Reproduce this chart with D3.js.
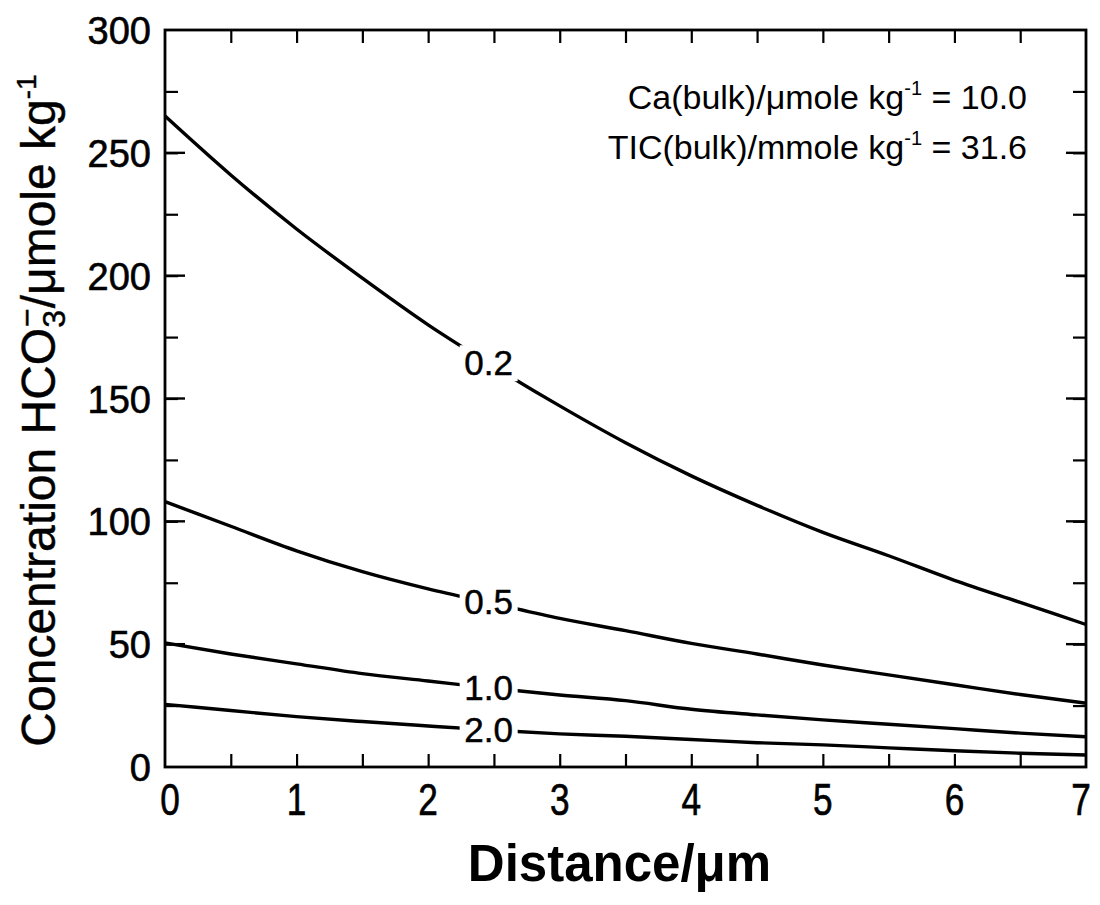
<!DOCTYPE html>
<html>
<head>
<meta charset="utf-8">
<script src="https://cdn.jsdelivr.net/npm/d3@7"></script>
<style>
  html, body { margin: 0; padding: 0; background: #fff; }
  svg { display: block; }
  text { font-family: "Liberation Sans", Arial, Helvetica, sans-serif; fill: #000; }
</style>
</head>
<body>
<svg id="chart" width="1100" height="905"></svg>
<script>
// ---- data ----
const distance = [0, 0.5, 1, 1.5, 2, 2.5, 3, 3.5, 4, 4.5, 5, 5.5, 6, 6.5, 7];
const curveLabels = ["0.2", "0.5", "1.0", "2.0"];
const conc02 = [265, 241, 219, 199, 180, 163, 147, 132, 118.5, 106.5, 95.5, 86, 76, 67, 58];
const conc05 = [108, 98, 88, 79.5, 72.5, 66.5, 60.5, 55.5, 50.3, 46, 41.5, 37.5, 33.5, 29.5, 26];
const conc10 = [50.5, 46, 42, 38, 35, 32, 29.3, 27, 23.5, 21.2, 19.2, 17.4, 15.6, 13.8, 12.3];
const conc20 = [25.5, 23, 20.5, 18.5, 16.7, 15, 13.5, 12.5, 11.2, 9.9, 9, 7.8, 6.6, 5.6, 4.9];
const seriesValues = [conc02, conc05, conc10, conc20];
const labelAt = 2.46;               // distance where the curve labels sit
const xTickLabels = [0, 1, 2, 3, 4, 5, 6, 7];
const yTickLabels = [0, 50, 100, 150, 200, 250, 300];
const annotations = [
  {pre: "Ca(bulk)/\u03bcmole kg", sup: "-1", post: " = 10.0"},
  {pre: "TIC(bulk)/mmole kg", sup: "-1", post: " = 31.6"}
];

// ---- layout ----
const svg = d3.select("#chart");
const L = 165, R = 1086, T = 30, B = 767;
const x = d3.scaleLinear().domain([0, 7]).range([L, R]);
const y = d3.scaleLinear().domain([0, 300]).range([B, T]);

// ---- curves ----
const line = d3.line()
  .x(d => x(d[0])).y(d => y(d[1]))
  .curve(d3.curveMonotoneX);

seriesValues.forEach((vals, i) => {
  const pts = distance.map((d, j) => [d, vals[j]]);
  svg.append("path")
    .attr("d", line(pts))
    .attr("fill", "none")
    .attr("stroke", "#000")
    .attr("stroke-width", 3.4)
    .attr("stroke-linejoin", "round");
  const k = distance.findIndex(d => d > labelAt);
  const t = (labelAt - distance[k - 1]) / (distance[k] - distance[k - 1]);
  const val = vals[k - 1] + t * (vals[k] - vals[k - 1]);
  const cx = x(labelAt), cy = y(val);
  svg.append("rect")
    .attr("x", cx - 29).attr("y", cy - 18)
    .attr("width", 58).attr("height", 36)
    .attr("fill", "#fff");
  svg.append("text")
    .attr("x", cx).attr("y", cy + 12)
    .attr("text-anchor", "middle")
    .attr("font-size", 35)
    .attr("stroke", "#000").attr("stroke-width", 0.5)
    .text(curveLabels[i]);
});

// ---- frame & ticks ----
const xMinor = d3.range(0.5, 7, 0.5);
const yMinor = d3.range(25, 300, 25);

const axBottom = d3.axisBottom(x).tickValues(xMinor).tickSizeInner(-13).tickSizeOuter(0).tickFormat("");
const axTop = d3.axisTop(x).tickValues(xMinor).tickSizeInner(-13).tickSizeOuter(0).tickFormat("");
const axLeft = d3.axisLeft(y).tickValues(yMinor).tickSizeInner(-13).tickSizeOuter(0).tickFormat("");
const axRight = d3.axisRight(y).tickValues(yMinor).tickSizeInner(-13).tickSizeOuter(0).tickFormat("");

function styleAxis(g) {
  g.select(".domain").remove();
  g.selectAll(".tick line").attr("stroke", "#000").attr("stroke-width", 2.2);
}
svg.append("g").attr("transform", `translate(0,${B})`).call(axBottom).call(styleAxis);
svg.append("g").attr("transform", `translate(0,${T})`).call(axTop).call(styleAxis);
svg.append("g").attr("transform", `translate(${L},0)`).call(axLeft).call(styleAxis);
svg.append("g").attr("transform", `translate(${R},0)`).call(axRight).call(styleAxis);

// longer ticks at every 50 on y
[L, R].forEach((px, side) => {
  svg.append("g").selectAll("line")
    .data(d3.range(50, 300, 50))
    .join("line")
    .attr("x1", px).attr("x2", side === 0 ? px + 20 : px - 20)
    .attr("y1", d => y(d)).attr("y2", d => y(d))
    .attr("stroke", "#000").attr("stroke-width", 2.4);
});

svg.append("rect")
  .attr("x", L).attr("y", T).attr("width", R - L).attr("height", B - T)
  .attr("fill", "none").attr("stroke", "#000").attr("stroke-width", 2.8);

// ---- tick labels ----
svg.append("g").selectAll("text")
  .data(xTickLabels).join("text")
  .attr("transform", d => `translate(${x(d) + (d === 0 ? 5 : 0) - (d === 7 ? 5 : 0)},${B + 48}) scale(0.88,1.12)`)
  .attr("text-anchor", "middle")
  .attr("font-size", 40)
  .attr("stroke", "#000").attr("stroke-width", 0.6)
  .text(d => d);

svg.append("g").selectAll("text")
  .data(yTickLabels).join("text")
  .attr("x", L - 14).attr("y", d => y(d) + 14)
  .attr("text-anchor", "end")
  .attr("font-size", 38)
  .attr("stroke", "#000").attr("stroke-width", 0.6)
  .text(d => d);

// ---- axis titles ----
svg.append("text")
  .attr("x", (L + R) / 2 - 6).attr("y", 881)
  .attr("text-anchor", "middle")
  .attr("font-size", 51)
  .attr("font-weight", "bold")
  .text("Distance/\u03bcm");

const yt = svg.append("text")
  .attr("transform", `translate(55,${(T + B) / 2 + 12}) rotate(-90)`)
  .attr("text-anchor", "middle")
  .attr("font-size", 48)
  .attr("stroke", "#000").attr("stroke-width", 0.4);
yt.append("tspan").text("Concentration HCO");
yt.append("tspan").attr("font-size", 32).attr("dy", 10).text("3");
yt.append("tspan").attr("font-size", 32).attr("dx", -17).attr("dy", -27).text("\u2212");
yt.append("tspan").attr("dy", 17).text("/\u03bcmole kg");
yt.append("tspan").attr("font-size", 28).attr("dy", -19).text("-1");

// ---- annotations ----
annotations.forEach((a, i) => {
  const t = svg.append("text")
    .attr("x", 1027).attr("y", 109 + i * 50)
    .attr("text-anchor", "end")
    .attr("font-size", 34);
  t.append("tspan").text(a.pre);
  t.append("tspan").attr("font-size", 20).attr("dy", -14).text(a.sup);
  t.append("tspan").attr("dy", 14).text(a.post);
});
</script>
</body>
</html>
